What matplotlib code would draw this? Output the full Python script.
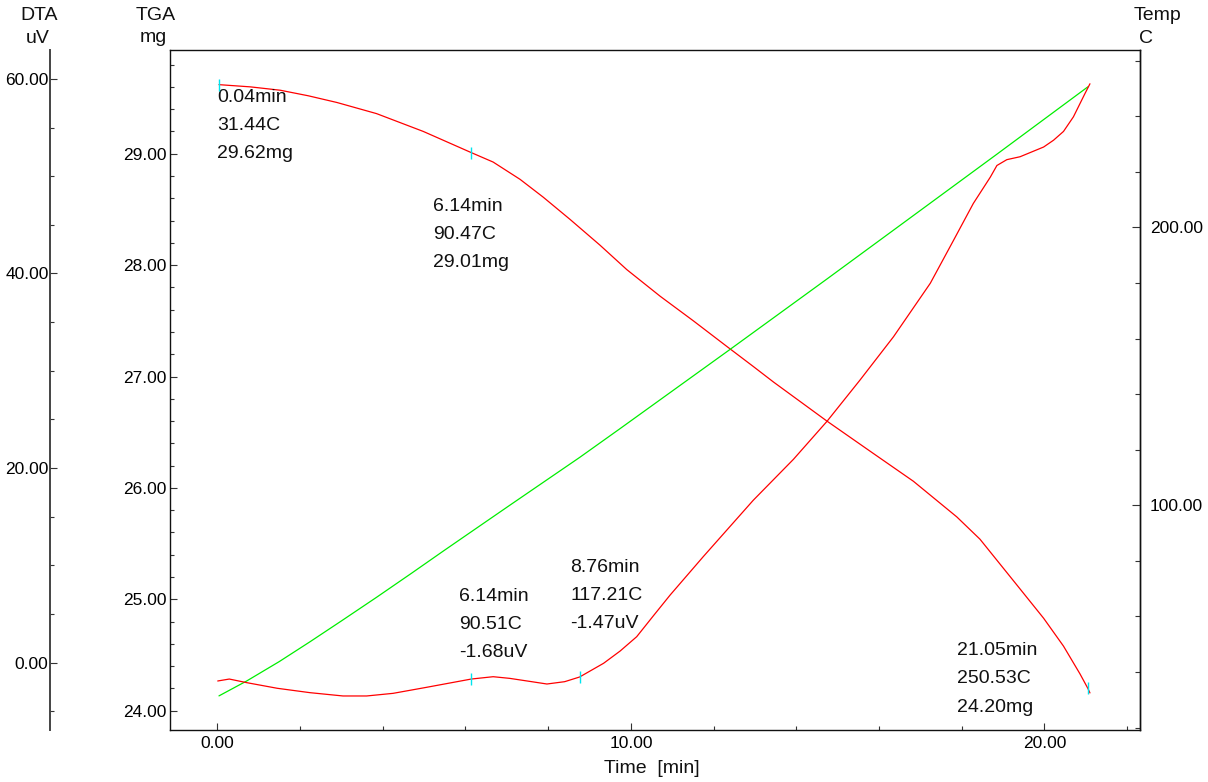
import matplotlib
matplotlib.use("Agg")
import matplotlib.pyplot as plt
from matplotlib.ticker import MultipleLocator, FormatStrFormatter

plt.rcParams['font.family'] = ['Liberation Sans', 'DejaVu Sans']

# ---- measured series -------------------------------------------------------
# Temperature programme (time [min], temperature [C])
temp_time = [0.04, 0.71, 1.5, 2.24, 3.0, 3.85, 4.7, 5.47, 6.14, 7.08, 8.76,
             9.74, 12.40, 14.74, 16.59, 18.85, 21.05]
temp_vals = [31.44, 36.8, 43.8, 50.9, 58.4, 66.9, 75.6, 83.6, 90.47, 100.1,
             117.21, 127.6, 156.1, 181.4, 201.6, 226.3, 250.53]

# TGA mass (time [min], mass [mg])
tga_time = [0.04, 0.8, 1.52, 2.2, 2.89, 3.85, 4.98, 6.14, 6.67, 7.32, 7.88,
            8.53, 9.25, 9.90, 10.71, 11.51, 12.32, 12.96, 13.45, 14.74, 15.86,
            16.83, 17.88, 18.44, 19.33, 19.98, 20.46, 20.86, 21.05, 21.10]
tga_vals = [29.62, 29.60, 29.57, 29.52, 29.46, 29.36, 29.20, 29.01, 28.925,
            28.77, 28.61, 28.41, 28.18, 27.96, 27.72, 27.50, 27.27, 27.09,
            26.95, 26.60, 26.31, 26.06, 25.74, 25.54, 25.13, 24.83, 24.58,
            24.33, 24.20, 24.16]

# DTA signal (time [min], signal [uV])
dta_time = [0.01, 0.29, 0.71, 1.45, 2.24, 3.04, 3.61, 4.25, 5.06, 6.14, 6.67,
            7.07, 7.6, 7.97, 8.4, 8.76, 9.34, 9.74, 10.14, 10.54, 10.95, 11.75,
            12.96, 13.93, 14.74, 15.54, 16.35, 17.24, 17.80, 18.28, 18.69,
            18.85, 19.09, 19.41, 19.98, 20.22, 20.46, 20.70, 20.98, 21.10]
dta_vals = [-1.88, -1.68, -2.05, -2.63, -3.08, -3.42, -3.42, -3.15, -2.53,
            -1.68, -1.44, -1.61, -1.95, -2.19, -1.95, -1.47, -0.06, 1.2, 2.67,
            4.8, 6.96, 10.9, 16.7, 20.9, 24.8, 29.05, 33.5, 39.0, 43.4, 47.2,
            49.9, 51.1, 51.7, 52.0, 53.0, 53.7, 54.6, 56.1, 58.5, 59.5]

# Marked points: (time, temperature, value)
tga_marks = [(0.04, 31.44, 29.62), (6.14, 90.47, 29.01), (21.05, 250.53, 24.20)]
dta_marks = [(6.14, 90.51, -1.68), (8.76, 117.21, -1.47)]

# ---- figure ----------------------------------------------------------------
W, H = 1208, 782
fig = plt.figure(figsize=(W / 100, H / 100), dpi=100)
ax = fig.add_axes([170 / W, (H - 730) / H, 970 / W, 680 / H])
ax_t = ax.twinx()
ax_d = ax.twinx()

ax.set_xlim(-1.144, 22.31)
ax.set_ylim(23.827, 29.931)
ax_t.set_ylim(19.17, 263.78)
ax_d.set_ylim(-6.917, 62.97)

tick_col = '#333333'
lab_size = 12.5

for a in (ax, ax_t, ax_d):
    for s in a.spines.values():
        s.set_linewidth(1.0)
        s.set_color('#111111')

# main box
ax.spines['top'].set_visible(True)
ax_t.spines['left'].set_visible(False)
ax_t.spines['top'].set_visible(False)
ax_t.spines['bottom'].set_visible(False)

# DTA axis sits further left, detached from the box
ax_d.spines['left'].set_position(('axes', (50 - 170) / 970))
ax_d.spines['left'].set_visible(True)
ax_d.spines['left'].set_color('#444444')
ax_d.spines['left'].set_linewidth(1.4)
for k in ('right', 'top', 'bottom'):
    ax_d.spines[k].set_visible(False)
ax_d.yaxis.set_ticks_position('left')
ax_d.yaxis.set_label_position('left')

# x axis (time)
ax.xaxis.set_major_locator(MultipleLocator(10))
ax.xaxis.set_minor_locator(MultipleLocator(2))
ax.xaxis.set_major_formatter(FormatStrFormatter('%.2f'))
ax.tick_params(axis='x', which='both', direction='in', top=False, bottom=True,
               colors=tick_col, labelcolor='black', labelsize=lab_size, pad=4.3)
ax.tick_params(axis='x', which='major', length=5, width=0.8)
ax.tick_params(axis='x', which='minor', length=2.9, width=0.8)

# TGA axis
ax.yaxis.set_major_locator(MultipleLocator(1))
ax.yaxis.set_minor_locator(MultipleLocator(0.2))
ax.yaxis.set_major_formatter(FormatStrFormatter('%.2f'))
ax.tick_params(axis='y', which='both', direction='in', left=True, right=False,
               colors=tick_col, labelcolor='black', labelsize=lab_size, pad=2.4)
ax.tick_params(axis='y', which='major', length=5, width=0.8)
ax.tick_params(axis='y', which='minor', length=2.6, width=0.8)

# Temperature axis
ax_t.yaxis.set_major_locator(MultipleLocator(100))
ax_t.yaxis.set_minor_locator(MultipleLocator(20))
ax_t.yaxis.set_major_formatter(FormatStrFormatter('%.2f'))
ax_t.tick_params(axis='y', which='both', direction='in', left=False, right=True,
                 colors=tick_col, labelcolor='black', labelsize=lab_size, pad=7.2)
ax_t.tick_params(axis='y', which='major', length=5.5, width=0.8)
ax_t.tick_params(axis='y', which='minor', length=3.6, width=0.8)

# DTA axis
ax_d.yaxis.set_major_locator(MultipleLocator(20))
ax_d.yaxis.set_minor_locator(MultipleLocator(5))
ax_d.yaxis.set_major_formatter(FormatStrFormatter('%.2f'))
ax_d.tick_params(axis='y', which='both', direction='in', left=True, right=False,
                 colors=tick_col, labelcolor='black', labelsize=lab_size, pad=1.0)
ax_d.tick_params(axis='y', which='major', length=5, width=0.8)
ax_d.tick_params(axis='y', which='minor', length=2.9, width=0.8)

# ---- curves ----------------------------------------------------------------
line_kw = dict(lw=0.9, solid_joinstyle='round', solid_capstyle='round')
ax.plot(tga_time, tga_vals, color='#ff0000', zorder=3, **line_kw)
ax_t.plot(temp_time, temp_vals, color='#00ee00', zorder=2, **line_kw)
ax_d.plot(dta_time, dta_vals, color='#ff0000', zorder=3, **line_kw)

ax.plot([m[0] for m in tga_marks], [m[2] for m in tga_marks], ls='none',
        marker='|', ms=9, mew=1.0, color='#00e5ee', zorder=4)
ax_d.plot([m[0] for m in dta_marks], [m[2] for m in dta_marks], ls='none',
          marker='|', ms=9, mew=1.0, color='#00e5ee', zorder=4)

# ---- point annotations -----------------------------------------------------
line_gap = 28.3
tga_offsets = [(-1.6, -17.1), (-37.9, -58.1), (-131.0, 33.4)]
dta_offsets = [(-11.9, 78.3), (-9.5, 105.3)]


def label_point(axis, t, temp, val, unit, off):
    lines = [f"{t:.2f}min", f"{temp:.2f}C", f"{val:.2f}{unit}"]
    for i, txt in enumerate(lines):
        axis.annotate(txt, xy=(t, val), xycoords='data',
                      xytext=(off[0], off[1] - i * line_gap),
                      textcoords='offset pixels', ha='left', va='baseline',
                      fontsize=14, color='#111111', annotation_clip=False)


for (t, temp, val), off in zip(tga_marks, tga_offsets):
    label_point(ax, t, temp, val, 'mg', off)
for (t, temp, val), off in zip(dta_marks, dta_offsets):
    label_point(ax_d, t, temp, val, 'uV', off)

# ---- axis titles -----------------------------------------------------------
def ftext(x, y, s):
    fig.text(x / W, 1 - y / H, s, ha='center', va='baseline', fontsize=14,
             color='#111111')


ftext(39, 20, 'DTA')
ftext(38, 43.3, 'uV')
ftext(156, 20, 'TGA')
ftext(153, 42, 'mg')
ftext(1158, 20, 'Temp')
ftext(1146, 43.3, 'C')
ftext(652, 773, 'Time  [min]')

fig.savefig('out.png', dpi=100)
